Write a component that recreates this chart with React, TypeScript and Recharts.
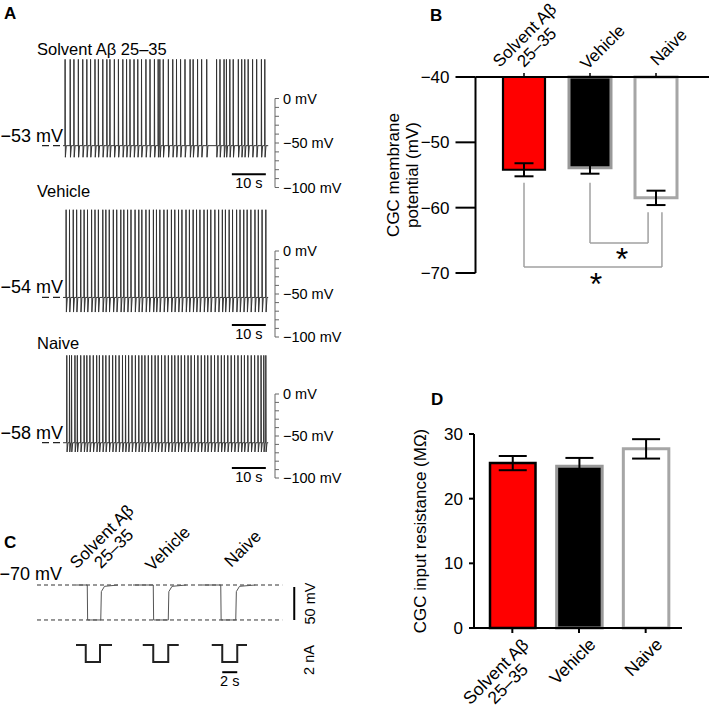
import React from 'react'
import {
  LineChart,
  Line,
  BarChart,
  Bar,
  Cell,
  ErrorBar,
  XAxis,
  YAxis,
  ReferenceLine,
  ReferenceDot,
  Label,
} from 'recharts'

const FONT = '"Liberation Sans", Arial, Helvetica, sans-serif'

// ---- A: spontaneous firing, one 60 s sweep per group ----
const traceNames = ['Solvent Aβ 25–35', 'Vehicle', 'Naive']
const restMv = [-53, -54, -58]
const peakMv = [44, 48, 46]
const ahpMv = [-66, -71, -69]
// spike times (s)
const spikesSolvent = [
  0.6, 2.1, 3.2, 4.5, 5.8, 7.0, 8.1, 9.4, 10.4, 11.7, 12.9, 13.8, 15.1, 16.3, 17.6, 18.7, 19.7,
  20.9, 22.0, 23.1, 24.4, 25.6, 26.9, 28.0, 28.5, 29.5, 31.0, 32.3, 33.4, 34.6, 35.9, 37.4, 38.3,
  39.6, 40.8, 42.3, 45.2, 46.2, 47.4, 48.1, 49.1, 50.1, 51.6, 52.6, 53.5, 54.5, 55.8, 57.0, 58.4,
  59.4,
]
const spikesVehicle = [
  0.9, 1.9, 3.0, 4.0, 5.2, 6.2, 7.2, 8.4, 9.4, 10.4, 11.7, 12.6, 13.6, 14.8, 15.8, 17.0, 17.9,
  19.0, 20.0, 21.2, 22.3, 23.2, 24.4, 25.4, 26.6, 27.5, 28.5, 29.7, 30.7, 31.9, 32.9, 34.0, 35.0,
  36.2, 37.2, 38.3, 39.3, 40.3, 41.5, 42.5, 43.5, 44.7, 45.8, 46.9, 47.8, 48.9, 49.9, 51.1, 52.1,
  53.2, 54.2, 55.3, 56.5, 57.5, 58.6, 59.7,
]
const spikesNaive = [
  1.1, 1.9, 2.5, 3.5, 4.2, 5.2, 6.2, 7.0, 7.9, 8.9, 9.9, 10.7, 11.7, 12.6, 13.6, 14.6, 15.5, 16.5,
  17.5, 18.4, 19.3, 20.3, 21.3, 22.3, 23.2, 24.1, 25.1, 26.1, 27.1, 28.0, 29.0, 30.0, 31.0, 32.0,
  32.9, 33.9, 34.8, 35.8, 36.8, 37.7, 38.7, 39.7, 40.7, 41.7, 42.6, 43.6, 44.6, 45.6, 46.6, 47.5,
  48.5, 49.5, 50.5, 51.5, 52.5, 53.4, 54.4, 55.4, 56.4, 57.4, 58.3, 59.1, 59.7,
]
const scaleTicksMv = [0, -10, -20, -30, -40, -50, -60, -70, -80, -90, -100]
const scaleLabelledMv = [0, -50, -100]
const timeBarS = [49.7, 59.7]
const timeBarMv = [-85, -86, -88]

// ---- C: hyperpolarising current steps ----
const cLabelTimes = [8.55, 15.75, 25.75]
const vSweepStart = [5.2, 12.8, 22.0]
const vSweepDrop = [6.7, 15.5, 24.5]
const vSweepRise = [8.5, 17.5, 26.5]
const vSweepEnd = [10.8, 19.9, 29.1]
const vRest = -70
const vStep = -123
const vRecovery = [-80, -72]
const iStart = [5.2, 14.1, 23.3]
const iDown = [6.5, 15.5, 24.7]
const iUp = [8.4, 17.5, 26.7]
const iEnd = [10.0, 18.9, 28.0]
const iStepNa = -2
const mvBar = [-73, -123]
const mvBarT = 34.3
const sBar = [24.7, 26.7]
const sBarNa = -3.2

// ---- B, D: group summaries ----
const groupLabels = [['Solvent Aβ', '25–35'], ['Vehicle'], ['Naive']]
const groupFill = ['#ff0000', '#000000', '#ffffff']
const groupStroke = ['#000000', '#999999', '#a6a6a6']
const membraneMv = [-54.2, -53.9, -58.5]
const membraneSem = [1.0, 0.9, 1.1]
const membraneTicks = [-40, -50, -60, -70]
const resistanceMOhm = [25.5, 25.0, 27.7]
const resistanceSem = [1.1, 1.3, 1.5]
const resistanceTicks = [0, 10, 20, 30]
const comparisons = [[1, 2], [0, 2]]
const bracketStartMv = -56.2
const bracketEndMv = -60.7
const bracketLevelMv = [-65.4, -69.1]
const bracketEndShift = [-0.12, 0.09]

const ctx = typeof document !== 'undefined' ? document.createElement('canvas').getContext('2d') : null
function textWidth(s: string, size: number) {
  if (!ctx) return s.length * size * 0.55
  ctx.font = `${size}px ${FONT}`
  return ctx.measureText(s).width
}

const minus = (v: number | string) => String(v).replace('-', '\u2212')

// rotated multi-line category label, lines centred on each other.
// up: block centred at a along the slant; down: block ends at a.
type SlantProps = { x: number; y: number; lines: string[]; up: boolean; size?: number; a?: number; b?: number }
function Slanted({ x, y, lines, up, size = 17, a = 30, b = -6.5 }: SlantProps) {
  const w = Math.max(...lines.map((l) => textWidth(l, size)))
  const cx = up ? a : a - w / 2
  const n = lines.length
  const lh = 17
  return (
    <g transform={`translate(${x},${y}) rotate(-45)`}>
      <text textAnchor="middle" fontSize={size} fill="#000">
        {lines.map((l, i) => (
          <tspan key={i} x={cx} y={up ? b - lh * (n - 1 - i) : b + lh * i}>
            {l}
          </tspan>
        ))}
      </text>
    </g>
  )
}

function traceData(spikes: number[], rest: number, peak: number, ahp: number) {
  const pts: { t: number; v: number }[] = [{ t: 0, v: rest }]
  for (const s of spikes) {
    pts.push({ t: s - 0.05, v: rest }, { t: s, v: peak }, { t: s + 0.08, v: ahp }, { t: s + 0.35, v: rest })
  }
  pts.push({ t: 60.4, v: rest })
  return pts
}

const traces = [spikesSolvent, spikesVehicle, spikesNaive].map((sp, i) =>
  traceData(sp, restMv[i], peakMv[i], ahpMv[i])
)
// plot top (+50 mV) and bottom (-100 mV) of each sweep, px
const tracePlot = [
  [53.5, 187],
  [208, 337],
  [352, 478],
]

function TraceChart({ i }: { i: number }) {
  const [top, bottom] = tracePlot[i]
  return (
    <div style={{ position: 'absolute', left: 0, top: top - 10 }}>
      <LineChart
        width={380}
        height={bottom - top + 40}
        data={traces[i]}
        margin={{ top: 10, right: 0, bottom: 30, left: 42 }}
      >
        <XAxis type="number" dataKey="t" domain={[-6.2, 62.4]} hide allowDataOverflow />
        <YAxis
          orientation="right"
          width={105}
          type="number"
          domain={[-100, 50]}
          ticks={scaleTicksMv}
          interval={0}
          axisLine={false}
          tickLine={{ stroke: '#666', strokeWidth: 1 }}
          tickSize={4}
          tickMargin={4}
          tick={{ fill: '#000', fontSize: 14.5 }}
          tickFormatter={(v: number) => (scaleLabelledMv.includes(v) ? `${minus(v)} mV` : '')}
        />
        <ReferenceLine
          segment={[{ x: 62.4, y: 0 }, { x: 62.4, y: -100 }]}
          stroke="#666"
          strokeWidth={1}
          ifOverflow="visible"
        />
        <ReferenceLine
          segment={[{ x: -6.2, y: restMv[i] }, { x: -0.3, y: restMv[i] }]}
          stroke="#222"
          strokeWidth={1.2}
          strokeDasharray="7 4"
          ifOverflow="visible"
          label={(p: any) => (
            <text
              x={p.viewBox.x + p.viewBox.width + 1}
              y={p.viewBox.y - 4}
              textAnchor="end"
              fontSize={18}
              fill="#000"
            >
              {`${minus(restMv[i])} mV`}
            </text>
          )}
        />
        <Line
          type="linear"
          dataKey="v"
          stroke="#333"
          strokeWidth={1}
          dot={false}
          isAnimationActive={false}
        />
        <ReferenceLine
          segment={[{ x: timeBarS[0], y: timeBarMv[i] }, { x: timeBarS[1], y: timeBarMv[i] }]}
          stroke="#000"
          strokeWidth={2}
          ifOverflow="visible"
          label={(p: any) => (
            <text
              x={p.viewBox.x + p.viewBox.width / 2}
              y={p.viewBox.y + 14}
              textAnchor="middle"
              fontSize={14.5}
              fill="#000"
            >
              10 s
            </text>
          )}
        />
      </LineChart>
    </div>
  )
}

const voltageData: { t: number; v: number | null }[] = []
vSweepStart.forEach((s, i) => {
  voltageData.push(
    { t: s, v: vRest },
    { t: vSweepDrop[i], v: vRest },
    { t: vSweepDrop[i] + 0.05, v: vStep },
    { t: vSweepRise[i], v: vStep },
    { t: vSweepRise[i] + 0.08, v: vRecovery[0] },
    { t: vSweepRise[i] + 0.5, v: vRecovery[1] },
    { t: vSweepEnd[i], v: vRest },
    { t: vSweepEnd[i] + 0.1, v: null }
  )
})
const currentData: { t: number; c: number | null }[] = []
iStart.forEach((s, i) => {
  currentData.push(
    { t: s, c: 0 },
    { t: iDown[i], c: 0 },
    { t: iDown[i], c: iStepNa },
    { t: iUp[i], c: iStepNa },
    { t: iUp[i], c: 0 },
    { t: iEnd[i], c: 0 },
    { t: iEnd[i] + 0.1, c: null }
  )
})

const membraneData = groupLabels.map((_, i) => ({ idx: i, v: membraneMv[i], sem: membraneSem[i] }))
const resistanceData = groupLabels.map((l, i) => ({ name: l.join(' '), v: resistanceMOhm[i], sem: resistanceSem[i] }))

const smallText = (x: number, y: number, rot: boolean, text: string) => (
  <text
    x={x}
    y={y}
    transform={rot ? `rotate(-90 ${x} ${y})` : undefined}
    textAnchor="middle"
    fontSize={14.5}
    fill="#000"
  >
    {text}
  </text>
)

export default function App() {
  return (
    <div
      style={{
        position: 'absolute',
        left: 0,
        top: 0,
        width: 709,
        height: 707,
        background: '#fff',
        fontFamily: FONT,
        overflow: 'hidden',
      }}
    >
      {[0, 1, 2].map((i) => (
        <TraceChart key={i} i={i} />
      ))}

      {/* C: voltage responses */}
      <div style={{ position: 'absolute', left: 0, top: 470 }}>
        <LineChart width={340} height={170} data={voltageData} margin={{ top: 107.4, right: 40.5, bottom: 15.4, left: 37 }}>
          <XAxis
            orientation="top"
            type="number"
            dataKey="t"
            domain={[0, 35]}
            ticks={cLabelTimes}
            interval={0}
            height={1}
            axisLine={false}
            tickLine={false}
            tickSize={0}
            tickMargin={0}
            tick={(p: any) => (
              <Slanted x={p.x} y={p.y} lines={groupLabels[cLabelTimes.indexOf(p.payload.value)]} up />
            )}
          />
          <YAxis hide type="number" domain={[-130, -60]} />
          <ReferenceLine
            segment={[{ x: 0, y: vRest }, { x: 32.7, y: vRest }]}
            stroke="#333"
            strokeDasharray="4 3"
            label={(p: any) => (
              <text x={p.viewBox.x + 25} y={p.viewBox.y - 5} textAnchor="end" fontSize={18} fill="#000">
                {`${minus(vRest)} mV`}
              </text>
            )}
          />
          <ReferenceLine segment={[{ x: 0, y: vStep }, { x: 32.7, y: vStep }]} stroke="#333" strokeDasharray="4 3" />
          <Line
            type="linear"
            dataKey="v"
            stroke="#555"
            strokeWidth={1}
            dot={false}
            connectNulls={false}
            isAnimationActive={false}
          />
          <ReferenceLine
            segment={[{ x: mvBarT, y: mvBar[0] }, { x: mvBarT, y: mvBar[1] }]}
            stroke="#000"
            strokeWidth={2}
            label={(p: any) => smallText(p.viewBox.x + 21, p.viewBox.y + p.viewBox.height / 2, true, '50 mV')}
          />
        </LineChart>
      </div>

      {/* C: injected current */}
      <div style={{ position: 'absolute', left: 0, top: 630 }}>
        <LineChart width={340} height={70} data={currentData} margin={{ top: 10.75, right: 40.5, bottom: 25.25, left: 37 }}>
          <XAxis hide type="number" dataKey="t" domain={[0, 35]} />
          <YAxis hide type="number" domain={[-3.5, 0.5]} />
          <Line
            type="linear"
            dataKey="c"
            stroke="#222"
            strokeWidth={2}
            dot={false}
            connectNulls={false}
            isAnimationActive={false}
          />
          <ReferenceLine
            segment={[{ x: sBar[0], y: sBarNa }, { x: sBar[1], y: sBarNa }]}
            stroke="#000"
            strokeWidth={2}
            label={(p: any) => smallText(p.viewBox.x + p.viewBox.width / 2, p.viewBox.y + 14, false, '2 s')}
          />
          <ReferenceDot
            x={mvBarT}
            y={-1.76}
            r={0}
            fill="none"
            stroke="none"
            label={(p: any) => smallText(p.viewBox.x + 20, p.viewBox.y + p.viewBox.height / 2, true, '2 nA')}
          />
        </LineChart>
      </div>

      {/* B: membrane potential */}
      <div style={{ position: 'absolute', left: 380, top: 0 }}>
        <BarChart width={329} height={320} data={membraneData} margin={{ top: 76, right: 0, bottom: 47, left: 0 }}>
          <XAxis
            orientation="top"
            type="number"
            dataKey="idx"
            domain={[-0.5, 2.5]}
            ticks={[0, 1, 2]}
            interval={0}
            padding={{ left: 15.5, right: 20 }}
            height={1}
            axisLine={{ stroke: '#000', strokeWidth: 2 }}
            tickLine={{ stroke: '#000', strokeWidth: 1.5 }}
            tickSize={4}
            tickMargin={0}
            tick={(p: any) => <Slanted x={p.x} y={p.y + 4} lines={groupLabels[p.payload.value]} up />}
          />
          <YAxis
            type="number"
            width={95.5}
            domain={[-70, -40]}
            ticks={membraneTicks}
            interval={0}
            axisLine={{ stroke: '#000', strokeWidth: 2 }}
            tickLine={{ stroke: '#000', strokeWidth: 2 }}
            tickSize={20}
            tickMargin={6}
            tick={{ fill: '#000', fontSize: 17 }}
            tickFormatter={minus}
          >
            <Label
              content={(p: any) => {
                const cy = p.viewBox.y + p.viewBox.height / 2
                const x0 = p.viewBox.x
                return (
                  <g>
                    <text x={x0 + 19} y={cy} transform={`rotate(-90 ${x0 + 19} ${cy})`} textAnchor="middle" fontSize={17} fill="#000">
                      CGC membrane
                    </text>
                    <text x={x0 + 38} y={cy} transform={`rotate(-90 ${x0 + 38} ${cy})`} textAnchor="middle" fontSize={17} fill="#000">
                      potential (mV)
                    </text>
                  </g>
                )
              }}
            />
          </YAxis>
          <Bar dataKey="v" barSize={42} isAnimationActive={false}>
            {membraneData.map((_, i) => (
              <Cell key={i} fill={groupFill[i]} stroke={groupStroke[i]} strokeWidth={i === 0 ? 2.2 : 3} />
            ))}
            <ErrorBar dataKey="sem" width={9.5} stroke="#000" strokeWidth={2} />
          </Bar>
          {comparisons.map(([a, b], k) => {
            const bx = b + bracketEndShift[k]
            const lvl = bracketLevelMv[k]
            return [
              <ReferenceLine
                key={`l${k}`}
                segment={[{ x: a, y: bracketStartMv }, { x: a, y: lvl }]}
                stroke="#a0a0a0"
                strokeWidth={1.5}
              />,
              <ReferenceLine
                key={`h${k}`}
                segment={[{ x: a, y: lvl }, { x: bx, y: lvl }]}
                stroke="#a0a0a0"
                strokeWidth={1.5}
                label={(p: any) => (
                  <text
                    x={p.viewBox.x + p.viewBox.width / 2 + 3}
                    y={p.viewBox.y + 27.5}
                    textAnchor="middle"
                    fontSize={32}
                    fill="#000"
                  >
                    *
                  </text>
                )}
              />,
              <ReferenceLine
                key={`r${k}`}
                segment={[{ x: bx, y: lvl }, { x: bx, y: bracketEndMv }]}
                stroke="#a0a0a0"
                strokeWidth={1.5}
              />,
            ]
          })}
        </BarChart>
      </div>

      {/* D: input resistance */}
      <div style={{ position: 'absolute', left: 380, top: 380 }}>
        <BarChart width={320} height={327} data={resistanceData} margin={{ top: 54, right: 18, bottom: 0, left: 0 }}>
          <XAxis
            dataKey="name"
            interval={0}
            padding={{ left: 5, right: 3 }}
            height={79}
            axisLine={{ stroke: '#000', strokeWidth: 2 }}
            tickLine={{ stroke: '#000', strokeWidth: 2 }}
            tickSize={5}
            tickMargin={0}
            tick={(p: any) => (
              <Slanted
                x={p.x}
                y={p.y - 5}
                lines={groupLabels[resistanceData.findIndex((d) => d.name === p.payload.value)]}
                up={false}
                size={17.5}
                a={0}
                b={25}
              />
            )}
          />
          <YAxis
            type="number"
            width={94}
            domain={[0, 30]}
            ticks={resistanceTicks}
            interval={0}
            axisLine={{ stroke: '#000', strokeWidth: 2 }}
            tickLine={{ stroke: '#000', strokeWidth: 2 }}
            tickSize={5}
            tickMargin={6}
            tick={{ fill: '#000', fontSize: 17 }}
          >
            <Label
              content={(p: any) => {
                const cy = p.viewBox.y + p.viewBox.height / 2
                const x0 = p.viewBox.x + 46
                return (
                  <text x={x0} y={cy} transform={`rotate(-90 ${x0} ${cy})`} textAnchor="middle" fontSize={17} fill="#000">
                    CGC input resistance (MΩ)
                  </text>
                )
              }}
            />
          </YAxis>
          <Bar dataKey="v" barSize={45.5} isAnimationActive={false}>
            {resistanceData.map((_, i) => (
              <Cell key={i} fill={groupFill[i]} stroke={groupStroke[i]} strokeWidth={i === 0 ? 2.5 : 3} />
            ))}
            <ErrorBar dataKey="sem" width={14} stroke="#000" strokeWidth={2} />
          </Bar>
        </BarChart>
      </div>

      {/* panel letters and sweep titles */}
      <svg width={709} height={707} style={{ position: 'absolute', left: 0, top: 0, pointerEvents: 'none' }}>
        <g fontWeight="bold" fontSize={17} fill="#000">
          <text x={4} y={19}>A</text>
          <text x={430} y={21}>B</text>
          <text x={4} y={548}>C</text>
          <text x={431} y={405}>D</text>
        </g>
        {traceNames.map((n, i) => (
          <text key={n} x={37} y={[55, 197, 349][i]} fontSize={16.5} fill="#000">
            {n}
          </text>
        ))}
      </svg>
    </div>
  )
}
